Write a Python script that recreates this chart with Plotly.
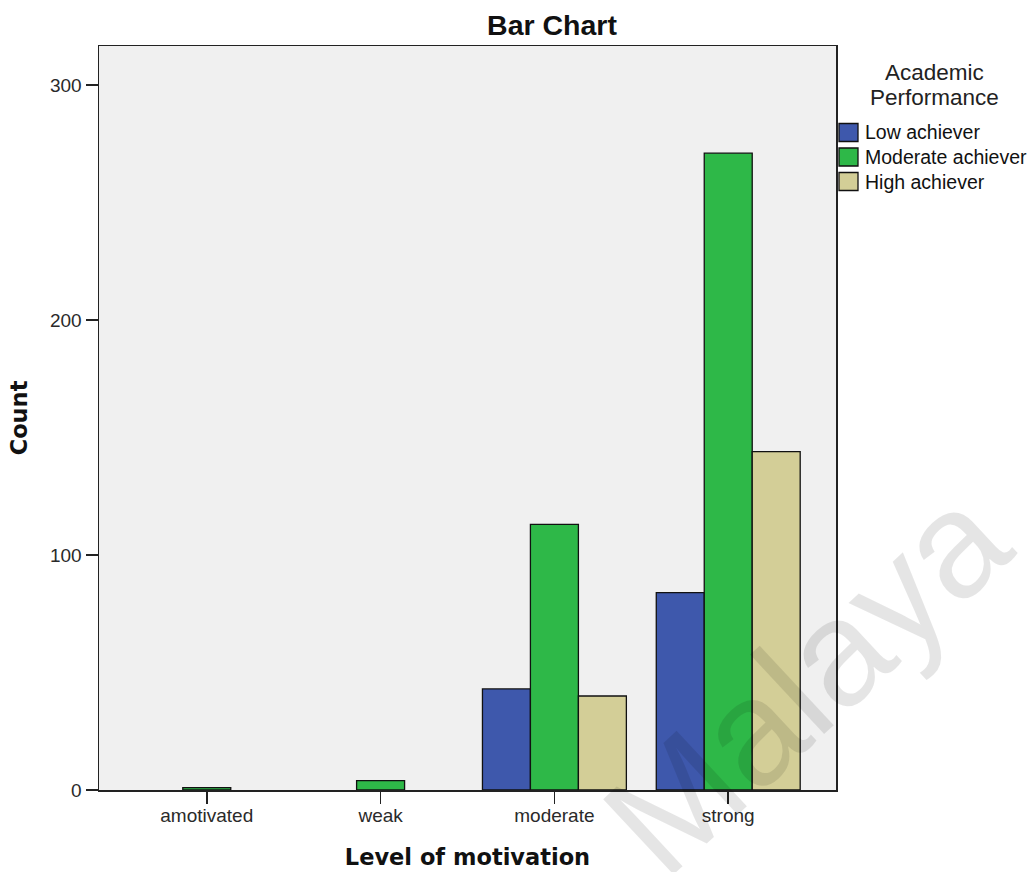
import plotly.graph_objects as go

categories = ["amotivated", "weak", "moderate", "strong"]
low_achiever = [None, None, 43, 84]
moderate_achiever = [1, 4, 113, 271]
high_achiever = [None, None, 40, 144]
series_names = ["Low achiever", "Moderate achiever", "High achiever"]
colors = ["#3e58ac", "#2eb848", "#d3ce97"]
y_ticks = [0, 100, 200, 300]
legend_title = ["Academic", "Performance"]

W, H = 1030, 872
L, R, T, B = 99, 836, 46, 790


def px_x(p):
    return (p - L) / (R - L)


def px_y(p):
    return (B - p) / (B - T)


fig = go.Figure()
for name, vals, c in zip(series_names, [low_achiever, moderate_achiever, high_achiever], colors):
    fig.add_trace(go.Bar(
        x=list(range(len(categories))), y=vals, name=name, showlegend=False,
        marker=dict(color=c, line=dict(color="#111111", width=1.3)),
    ))

font = "Liberation Sans, Arial, sans-serif"
bold_font = "DejaVu Sans, Verdana, sans-serif"
fig.update_layout(
    width=W, height=H,
    margin=dict(l=L, r=W - R, t=T, b=H - B, pad=0, autoexpand=False),
    paper_bgcolor="white", plot_bgcolor="#f0f0f0",
    barmode="group", bargap=0.172, bargroupgap=0,
    font=dict(family=font, size=19, color="#222222"),
    showlegend=False,
    xaxis=dict(
        tickmode="array", tickvals=list(range(len(categories))), ticktext=categories,
        range=[-0.62, 3.62], showgrid=False, zeroline=False, automargin=False,
        ticks="outside", ticklen=12, tickwidth=1.5, tickcolor="#222222",
        ticklabelstandoff=-4,
        showline=True, linecolor="#222222", linewidth=1.5, mirror=True,
        tickfont=dict(size=19, color="#2a2a2a"),
        title=dict(text="<b>Level of motivation</b>", font=dict(family=bold_font, size=22.5, color="#111111"), standoff=24),
        fixedrange=True,
    ),
    yaxis=dict(
        tickmode="array", tickvals=y_ticks, ticktext=[str(v) for v in y_ticks],
        range=[0, (B - T) / 2.35], showgrid=False, zeroline=False, automargin=False,
        ticks="outside", ticklen=12, tickwidth=1.5, tickcolor="#222222",
        showline=True, linecolor="#222222", linewidth=1.5, mirror=True,
        tickfont=dict(size=19, color="#2a2a2a"),
        title=dict(text="<b>Count</b>", font=dict(family=bold_font, size=22.5, color="#111111"), standoff=16),
        fixedrange=True,
    ),
    title=dict(text="<b>Bar Chart</b>", x=552 / W, xref="container", xanchor="center",
               y=1 - 25 / H, yref="container", yanchor="middle",
               font=dict(family=font, size=28.5, color="#111111")),
)

# legend (title lines + swatches + labels)
for i, line in enumerate(legend_title):
    fig.add_annotation(
        text=line, xref="paper", yref="paper",
        x=px_x(934), y=px_y(73 + 24 * i), xanchor="center", yanchor="middle",
        showarrow=False, font=dict(family=font, size=22.5, color="#222222"),
    )
for i, (name, c) in enumerate(zip(series_names, colors)):
    yc = 132.5 + 24.5 * i
    fig.add_shape(
        type="rect", xref="paper", yref="paper",
        x0=px_x(839), x1=px_x(858), y0=px_y(yc - 9), y1=px_y(yc + 9),
        fillcolor=c, line=dict(color="#111111", width=1.3),
    )
    fig.add_annotation(
        text=name, xref="paper", yref="paper",
        x=px_x(863), y=px_y(yc), xanchor="left", yanchor="middle",
        showarrow=False, font=dict(family=font, size=19.5, color="#111111"),
    )

# watermark
fig.add_annotation(
    text="Malaya", xref="paper", yref="paper",
    x=px_x(806), y=px_y(680), xanchor="center", yanchor="middle",
    showarrow=False, textangle=-43,
    font=dict(family=font, size=150, color="rgba(0,0,0,0.1)"),
)

fig.write_html(
    "out.html",
    config={"displayModeBar": False, "staticPlot": True},
    post_script="document.body.style.margin='0px';document.body.style.overflow='hidden';",
)
